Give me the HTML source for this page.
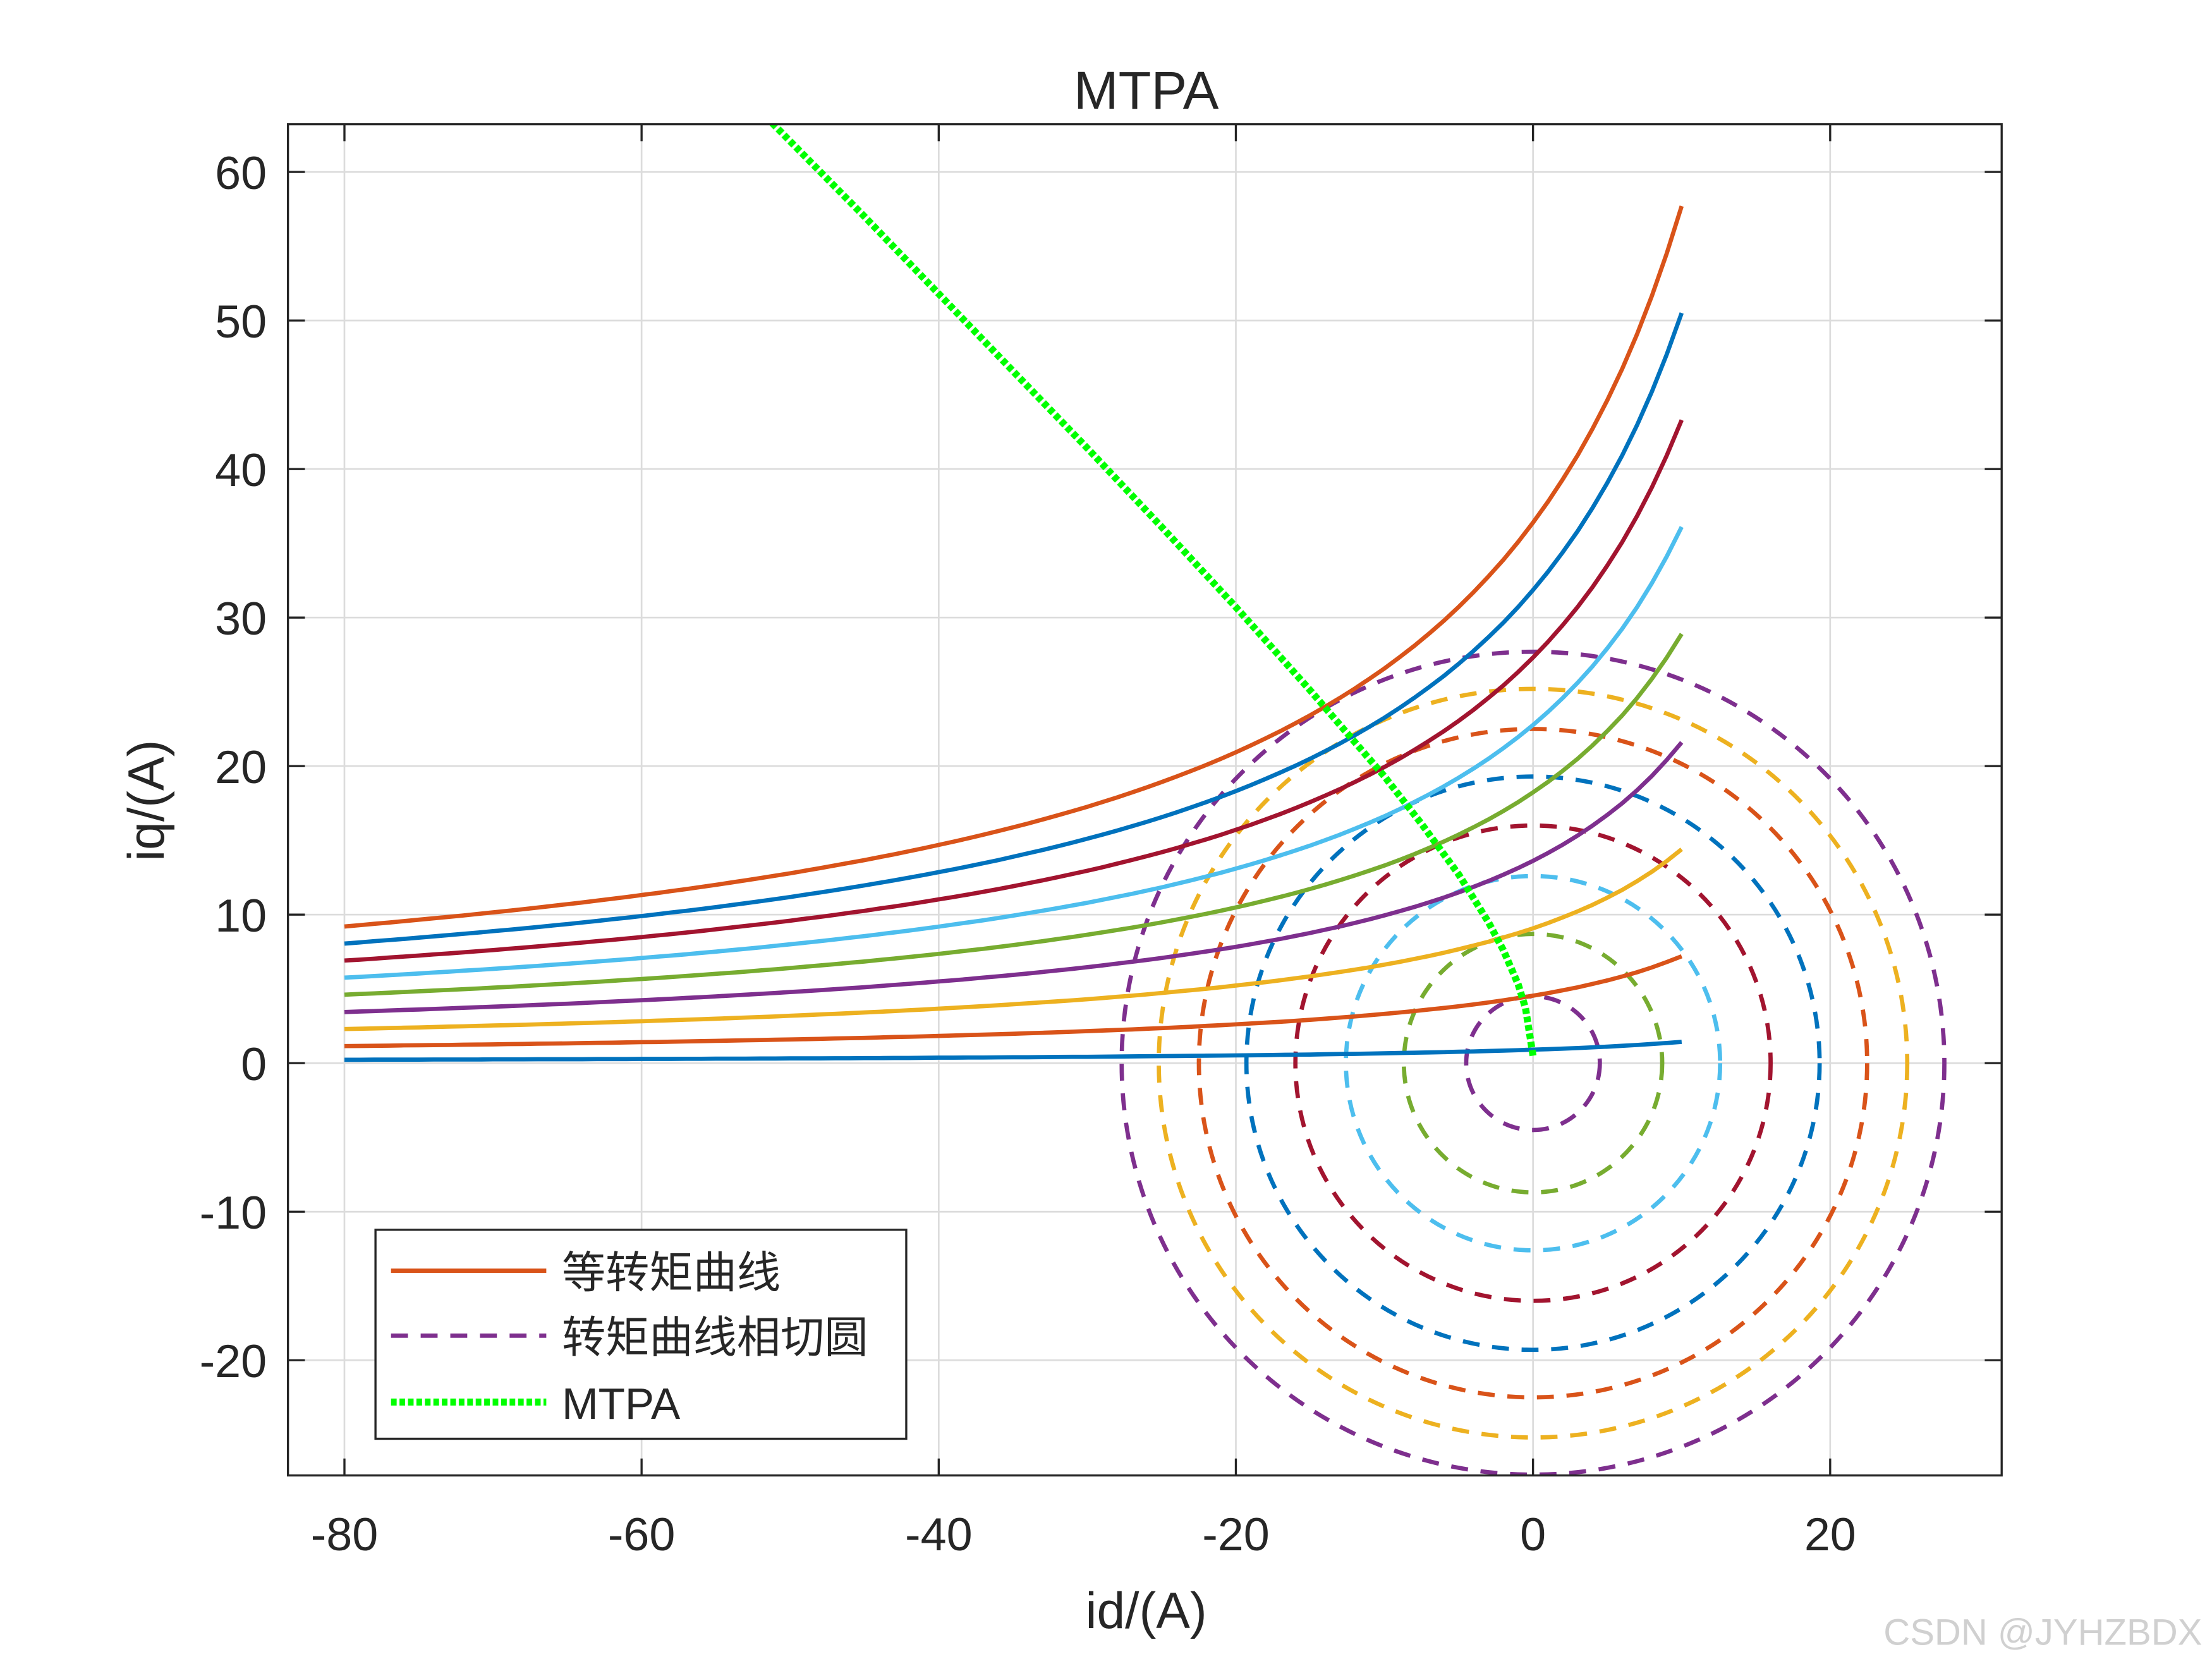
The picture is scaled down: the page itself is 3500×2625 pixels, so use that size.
<!DOCTYPE html>
<html><head><meta charset="utf-8"><style>
html,body{margin:0;padding:0;background:#fff}
svg{display:block}
text{font-family:"Liberation Sans","Noto Sans CJK SC",sans-serif;fill:#262626}
</style></head><body>
<svg id="chart" width="3500" height="2625" viewBox="0 0 1567 1175" preserveAspectRatio="none" xmlns="http://www.w3.org/2000/svg">
<defs><clipPath id="clip"><rect x="204" y="88" width="1214" height="957"/></clipPath></defs>
<rect width="1567" height="1175" fill="#fff"/>
<g id="grid"></g>
<g id="data" clip-path="url(#clip)"></g>
<rect x="204" y="88" width="1214" height="957" fill="none" stroke="#262626" stroke-width="1.5"/>
<g id="ticks"></g>
<text x="812" y="77" font-size="38" text-anchor="middle">MTPA</text>
<text x="812" y="1153" font-size="36" text-anchor="middle">id/(A)</text>
<text transform="translate(116,567) rotate(-90)" font-size="36" text-anchor="middle">iq/(A)</text>
<g>
<rect x="266" y="871" width="376" height="148" fill="#fff" stroke="#262626" stroke-width="1.5"/>
<line x1="277" y1="900" x2="387" y2="900" stroke="#D95319" stroke-width="3"/>
<text x="398" y="912" font-size="31">等转矩曲线</text>
<line x1="277" y1="946" x2="387" y2="946" stroke="#7E2F8E" stroke-width="3" stroke-dasharray="12,9"/>
<text x="398" y="958" font-size="31">转矩曲线相切圆</text>
<line x1="277" y1="993" x2="387" y2="993" stroke="#00FF00" stroke-width="5" stroke-dasharray="4,2"/>
<text x="398" y="1005" font-size="31">MTPA</text>
</g>
<text x="1560" y="1165" font-size="26" text-anchor="end" style="fill:#d0d0d0">CSDN @JYHZBDX</text>
</svg>
<script>
const xTicks=[-80,-60,-40,-20,0,20];
const yTicks=[-20,-10,0,10,20,30,40,50,60];
const torqueEndValues=[57.7,50.5,43.3,36.1,28.9,21.6,14.4,7.2,1.44];
const torqueColors=['#D95319','#0072BD','#A2142F','#4DBEEE','#77AC30','#7E2F8E','#EDB120','#D95319','#0072BD'];
const circleRadii=[4.5,8.7,12.6,16,19.3,22.5,25.2,27.7];
const circleColors=['#7E2F8E','#77AC30','#4DBEEE','#A2142F','#0072BD','#D95319','#EDB120','#7E2F8E'];
const mtpaId=[0,-0.5,-1,-2,-3,-5,-7.5,-10,-15,-20,-25,-30,-35,-40,-45,-52];
const mtpaIq=[0.5,3.7,5.3,7.6,9.5,12.7,16.1,19.3,25.1,30.7,36.1,41.4,46.6,51.8,57.0,64.1];
const asym=27.08;
const NS='http://www.w3.org/2000/svg';
const X=v=>1086+v*10.525, Y=v=>753-v*10.52;
function mk(t,a,p){const e=document.createElementNS(NS,t);for(const k in a)e.setAttribute(k,a[k]);p.appendChild(e);return e;}
const grid=document.getElementById('grid'),ticks=document.getElementById('ticks'),data=document.getElementById('data');
xTicks.forEach(v=>{
 const g=mk('line',{x1:X(v),x2:X(v),y1:88,y2:1045,stroke:'#dcdcdc','stroke-width':1.2},grid);
 
 
 mk('line',{x1:X(v),x2:X(v),y1:1045,y2:1033,stroke:'#262626','stroke-width':1.5},ticks);
 mk('line',{x1:X(v),x2:X(v),y1:88,y2:100,stroke:'#262626','stroke-width':1.5},ticks);
 const t=mk('text',{x:X(v),y:1098,'font-size':33,'text-anchor':'middle'},ticks);t.textContent=v;
 
 
});
yTicks.forEach(v=>{
 const g=mk('line',{x1:204,x2:1418,y1:Y(v),y2:Y(v),stroke:'#dcdcdc','stroke-width':1.2},grid);
 
 
 mk('line',{x1:204,x2:216,y1:Y(v),y2:Y(v),stroke:'#262626','stroke-width':1.5},ticks);
 mk('line',{x1:1406,x2:1418,y1:Y(v),y2:Y(v),stroke:'#262626','stroke-width':1.5},ticks);
 const t=mk('text',{x:189,y:Y(v)+12,'font-size':33,'text-anchor':'end'},ticks);t.textContent=v;
 
 
});
circleRadii.forEach((r,i)=>{
 const c=mk('circle',{cx:X(0),cy:Y(0),r:r*10.52,fill:'none',stroke:circleColors[i],'stroke-width':3,'stroke-dasharray':'12,9'},data);
 
 
});
torqueEndValues.forEach((e,i)=>{
 const K=e*(asym-10);let d='';
 for(let id=-80;id<=10.001;id+=1){d+=(d?'L':'M')+X(id).toFixed(1)+','+Y(K/(asym-id)).toFixed(1);}
 const p=mk('path',{d:d,fill:'none',stroke:torqueColors[i],'stroke-width':3},data);
 
 
});
let md=mtpaId.map((v,i)=>(i?'L':'M')+X(v).toFixed(1)+','+Y(mtpaIq[i]).toFixed(1)).join('');
const m=mk('path',{d:md,fill:'none',stroke:'#00FF00','stroke-width':5,'stroke-dasharray':'4,2','stroke-linejoin':'round'},data);


</script>
</body></html>
